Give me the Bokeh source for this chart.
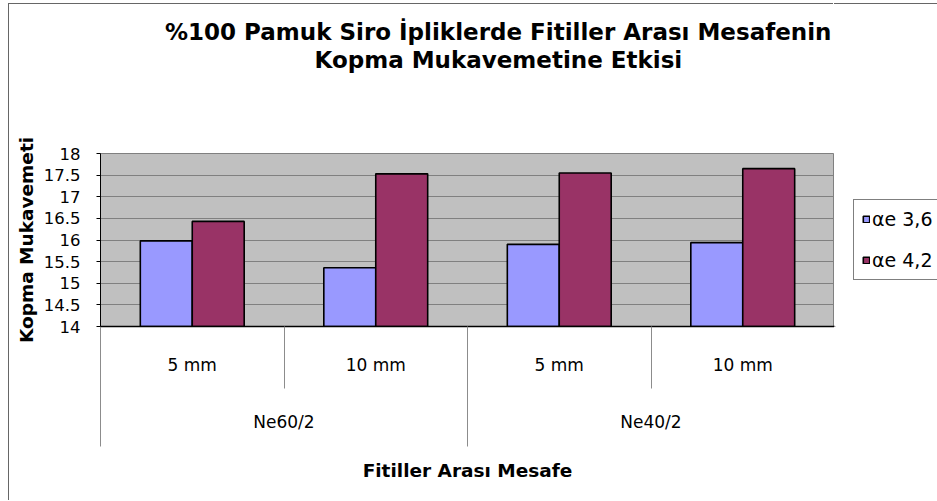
from bokeh.plotting import figure
from bokeh.layouts import row
from bokeh.models import (FactorRange, Range1d, ColumnDataSource, Legend, LegendItem,
                          CategoricalAxis, LinearAxis, FixedTicker, NumeralTickFormatter, Title)
from bokeh.transform import dodge
from bokeh.embed import file_html
from bokeh.resources import INLINE

# ---- data ----
groups = ["Ne60/2", "Ne40/2"]
distances = ["5 mm", "10 mm"]
series_names = ["\u03b1e 3,6", "\u03b1e 4,2"]
ae36 = [15.98, 15.36, 15.90, 15.94]
ae42 = [16.43, 17.53, 17.55, 17.65]
y_ticks = [14, 14.5, 15, 15.5, 16, 16.5, 17, 17.5, 18]
title_lines = ["%100 Pamuk Siro \u0130pliklerde Fitiller Aras\u0131 Mesafenin",
               "Kopma Mukavemetine Etkisi"]
x_title = "Fitiller Aras\u0131 Mesafe"
y_title = "Kopma Mukavemeti"

FONT = "DejaVu Sans"
COLORS = ["#9999FF", "#993366"]
factors = [(g, d) for g in groups for d in distances]

W, H = 825, 497
ML, MR, MT, MB = 91, 0, 149, 175

p = figure(
    x_range=FactorRange(factors=factors, range_padding=0, factor_padding=0, group_padding=0),
    y_range=Range1d(y_ticks[0], y_ticks[-1]),
    width=W, height=H, output_backend="svg", toolbar_location=None,
    min_border_left=ML, min_border_right=MR, min_border_top=MT, min_border_bottom=MB,
    background_fill_color="#C0C0C0", border_fill_color="white",
    outline_line_color="#808080", margin=(4, 0, 0, 9),
)
p.styles = {"box-shadow": "-1px -1px 0 0 #666666"}

src = ColumnDataSource(dict(x=factors, a=ae36, b=ae42))
bw = 0.283
r1 = p.vbar(x=dodge("x", -bw / 2, range=p.x_range), top="a", bottom=y_ticks[0], width=bw,
            source=src, fill_color=COLORS[0], line_color="black", line_width=1.6)
r2 = p.vbar(x=dodge("x", bw / 2, range=p.x_range), top="b", bottom=y_ticks[0], width=bw,
            source=src, fill_color=COLORS[1], line_color="black", line_width=1.6)

# grid
p.xgrid.visible = False
p.ygrid.ticker = FixedTicker(ticks=y_ticks)
p.ygrid.grid_line_color = "#808080"
p.ygrid.grid_line_width = 1

# y axis
ya = p.yaxis[0]
ya.ticker = FixedTicker(ticks=y_ticks)
ya.formatter = NumeralTickFormatter(format="0.[0]")
ya.major_tick_out = 4
ya.major_tick_in = 0
ya.minor_tick_line_color = None
ya.major_tick_line_color = "black"
ya.axis_line_color = "black"
ya.major_label_standoff = 16
ya.major_label_text_font = FONT
ya.major_label_text_font_size = "16.5px"
ya.major_label_text_color = "black"
ya.axis_label = y_title
ya.axis_label_text_font = FONT
ya.axis_label_text_font_style = "bold"
ya.axis_label_text_font_size = "18.5px"
ya.axis_label_text_color = "black"
ya.axis_label_standoff = 4

# slot boundaries in the factor range's own (synthetic) coordinates
n_slots = len(factors)
bounds = list(range(n_slots + 1))
long_b = [b for b in bounds if b % len(distances) == 0]
short_b = [b for b in bounds if b % len(distances) != 0]
p.extra_x_ranges = {"grp": FactorRange(factors=groups, range_padding=0, factor_padding=0)}

# separator axis (nearest the frame): draws the axis line and the category separators
sa = LinearAxis(ticker=FixedTicker(ticks=long_b, minor_ticks=short_b))
sa.axis_line_color = "black"
sa.axis_line_width = 1.5
sa.major_tick_out = 0
sa.major_tick_in = -120
sa.minor_tick_out = 0
sa.minor_tick_in = -62
sa.major_tick_line_color = "#8c8c8c"
sa.minor_tick_line_color = "#8c8c8c"
sa.major_label_overrides = {b: "" for b in long_b}
sa.major_label_text_font_size = "0px"
sa.major_label_standoff = 0
xa = p.xaxis[0]
p.below = [sa, xa]

# x axis (subgroup labels)
xa.major_tick_line_color = None
xa.major_tick_out = 0
xa.major_tick_in = 0
xa.axis_line_color = None
xa.major_label_standoff = 28
xa.major_label_text_font = FONT
xa.major_label_text_font_size = "17px"
xa.major_label_text_color = "black"
xa.group_text_font_size = "0px"
xa.group_text_color = None
xa.separator_line_color = None

# x axis (group labels)
ga = CategoricalAxis(x_range_name="grp")
ga.axis_line_color = None
ga.major_tick_line_color = None
ga.major_tick_out = 0
ga.major_tick_in = 0
ga.major_label_standoff = 34
ga.major_label_text_font = FONT
ga.major_label_text_font_size = "17px"
ga.major_label_text_color = "black"
ga.axis_label = x_title
ga.axis_label_text_font = FONT
ga.axis_label_text_font_style = "bold"
ga.axis_label_text_font_size = "18.5px"
ga.axis_label_text_color = "black"
ga.axis_label_standoff = 25
p.add_layout(ga, "below")

# spacing between title and plot area (an invisible, label-less axis)
sp = LinearAxis(ticker=FixedTicker(ticks=[bounds[0]]))
sp.axis_line_color = None
sp.major_tick_out = 81
sp.major_tick_in = 0
sp.major_tick_line_color = None
sp.minor_tick_line_color = None
sp.major_label_overrides = {bounds[0]: ""}
sp.major_label_standoff = 0
sp.major_label_text_font_size = "0px"
p.add_layout(sp, "above")

# title (two lines, nearest-the-plot line added first)
for txt, off in [(title_lines[1], 214), (title_lines[0], 64.5)]:
    p.add_layout(Title(text=txt, align="left", offset=off, standoff=0,
                       text_font=FONT, text_font_style="bold", text_font_size="23px",
                       text_color="black"), "above")

# legend strip to the right of the plot area (its frame is aligned with the plot's frame)
pl = figure(width=937 - 9 - W, height=H, output_backend="svg", toolbar_location=None,
            x_axis_location=None, y_axis_location=None, min_border=0,
            x_range=Range1d(0, 1), y_range=Range1d(0, 1),
            background_fill_color="white", border_fill_color="white",
            outline_line_color=None, margin=(4, 0, 0, 0))
pl.styles = {"box-shadow": "0 -1px 0 0 #666666"}
pl.grid.visible = False
# legend proxies: one off-screen bar each, so the legend can draw its swatch
proxy = ColumnDataSource(dict(x=[-1.0], top=[-1.0]))
lr = [pl.vbar(x="x", top="top", bottom=0, width=0.1, source=proxy, fill_color=c,
              line_color="black", line_width=1.6) for c in COLORS]
legend = Legend(items=[LegendItem(label=n, renderers=[r]) for n, r in zip(series_names, lr)],
                location=(19, 46), orientation="vertical", margin=0,
                glyph_width=8, glyph_height=8, label_standoff=2, spacing=19, padding=8,
                label_height=22, border_line_color="black", border_line_width=1,
                background_fill_color="white", background_fill_alpha=1,
                label_text_font=FONT, label_text_font_size="19px", label_text_color="black")
pl.add_layout(legend)

layout = row(p, pl, spacing=0)
open("out.html", "w").write(file_html(layout, INLINE))
